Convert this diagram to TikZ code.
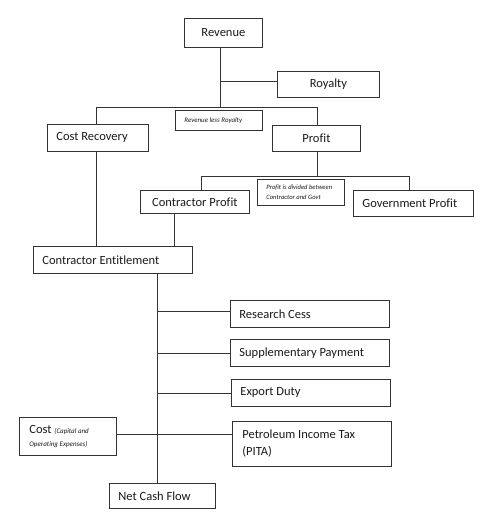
\documentclass[tikz,border=0pt]{standalone}
\usepackage{fontspec}
\setmainfont[Ligatures=NoCommon]{Carlito}
\begin{document}
\begin{tikzpicture}[x=1pt,y=-1pt,
  box/.style={draw=black!80, line width=0.8pt, rectangle, anchor=north west,
    inner xsep=9pt, inner ysep=0pt, font=\fontsize{12.5}{15}\selectfont, text=black!90,
    execute at begin node={\spaceskip=0pt\xspaceskip=0pt}},
  note/.style={box, font=\fontsize{6.9}{9.5}\selectfont\itshape, inner xsep=9pt},
  conn/.style={draw=black!80, line width=0.8pt}]
\useasboundingbox (0,0) rectangle (500,516);
% boxes
\node[box, minimum width=78pt, minimum height=29pt, text width=60pt, align=center] (rev) at (184,18) {Revenue};
\node[box, minimum width=102pt, minimum height=26pt, text width=84pt, align=center] (roy) at (277,71) {Royalty};
\node[box, minimum width=101pt, minimum height=27pt, text width=83pt, align=left] (cr) at (47,124) {Cost Recovery};
\node[note, minimum width=87pt, minimum height=20pt, text width=69pt, align=left] (rlr) at (175,110) {Revenue less Royalty};
\node[box, minimum width=88pt, minimum height=26pt, text width=70pt, align=center] (pr) at (272,125) {Profit};
\node[box, minimum width=109pt, minimum height=23pt, text width=91pt, align=center] (cp) at (140,190) {Contractor Profit};
\node[note, minimum width=87pt, minimum height=26pt, text width=69pt, align=left, font=\fontsize{6.6}{9.5}\selectfont\itshape] (pd) at (257,179) {Profit is divided between\\Contractor and Govt};
\node[box, minimum width=120pt, minimum height=26pt, text width=102pt, align=left] (gp) at (353,190) {Government Profit};
\node[box, minimum width=159pt, minimum height=27pt, text width=141pt, align=left] (ce) at (33,246) {Contractor Entitlement};
\node[box, minimum width=159pt, minimum height=27pt, text width=141pt, align=left] (rc) at (230,300) {Research Cess};
\node[box, minimum width=159pt, minimum height=27pt, text width=141pt, align=left] (sp) at (230,339) {Supplementary Payment};
\node[box, minimum width=159pt, minimum height=27pt, text width=141pt, align=left] (ed) at (231,379) {Export Duty};
\node[box, minimum width=97pt, minimum height=38pt, align=left, inner xsep=10pt, text width=77pt] (cost) at (19,417) {Cost {\fontsize{7}{8}\selectfont\itshape (Capital and}\\[-2pt]{\fontsize{7}{8}\selectfont\itshape Operating Expenses)}};
\node[box, minimum width=159pt, minimum height=45pt, text width=139pt, inner xsep=10pt, align=left, font=\fontsize{12.5}{17}\selectfont] (pita) at (232,421) {Petroleum Income Tax\\(PITA)};
\node[box, minimum width=106pt, minimum height=25pt, text width=88pt, align=left] (ncf) at (109,483) {Net Cash Flow};
% junction coordinates
\coordinate (t1) at (220,81);
\coordinate (b1m) at (220,107);
\coordinate (b1l) at (96,107);
\coordinate (b1r) at (317,107);
\coordinate (b2m) at (317,176);
\coordinate (b2l) at (201,176);
\coordinate (b2r) at (409,176);
\coordinate (crx) at (96,151);
\coordinate (cpx) at (174,213);
\coordinate (tr) at (157,273);
\coordinate (j1) at (157,311);
\coordinate (j2) at (157,353);
\coordinate (j3) at (158,393);
\coordinate (j4) at (157,434);
% connectors
\draw[conn] (rev.south -| b1m) -- (b1m);
\draw[conn] (t1) -- (roy.west |- t1);
\draw[conn] (b1l) -- (b1r);
\draw[conn] (b1l) -- (cr.north -| b1l);
\draw[conn] (b1r) -- (pr.north -| b1r);
\draw[conn] (pr.south -| b2m) -- (b2m);
\draw[conn] (b2l) -- (b2r);
\draw[conn] (b2l) -- (cp.north -| b2l);
\draw[conn] (b2r) -- (gp.north -| b2r);
\draw[conn] (crx) -- (ce.north -| crx);
\draw[conn] (cpx) -- (ce.north -| cpx);
\draw[conn] (tr) -- (ncf.north -| tr);
\draw[conn] (j1) -- (rc.west |- j1);
\draw[conn] (j2) -- (sp.west |- j2);
\draw[conn] (j3) -- (ed.west |- j3);
\draw[conn] (cost.east |- j4) -- (pita.west |- j4);
\end{tikzpicture}
\end{document}
